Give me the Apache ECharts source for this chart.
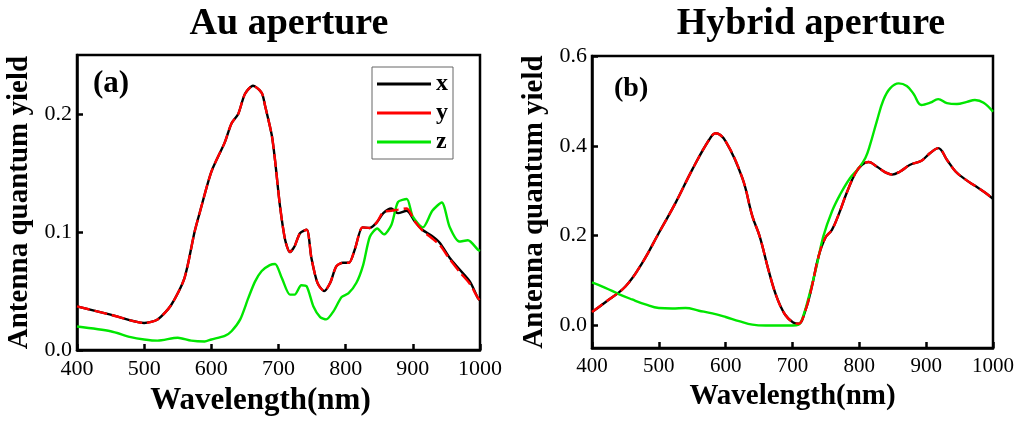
<!DOCTYPE html>
<html>
<head>
<meta charset="utf-8">
<script src="https://cdn.jsdelivr.net/npm/echarts@6/dist/echarts.min.js"></script>
<style>
  html, body { margin: 0; padding: 0; background: #fff; }
  #chart { width: 1019px; height: 421px; }
</style>
</head>
<body>
<div id="chart"></div>
<script>
// Au aperture, x and y dipoles (curves overlap)
const wlAuXY = [400, 450, 500, 520, 540, 560, 575, 583, 600, 620, 630, 640, 650, 662, 675, 680, 690, 695, 702, 710, 717, 724, 732, 742, 749, 758, 768, 777, 786, 796, 805, 814, 825, 836, 846, 856, 868, 878, 891, 903, 915, 928, 940, 955, 970, 985, 997, 1000]
const auX = [0.037, 0.030, 0.023, 0.026, 0.038, 0.061, 0.100, 0.117, 0.151, 0.176, 0.192, 0.200, 0.217, 0.224, 0.218, 0.207, 0.182, 0.160, 0.123, 0.093, 0.083, 0.088, 0.099, 0.102, 0.078, 0.057, 0.050, 0.057, 0.071, 0.074, 0.074, 0.086, 0.104, 0.1035, 0.108, 0.116, 0.120, 0.116, 0.118, 0.109, 0.1015, 0.097, 0.091, 0.078, 0.068, 0.058, 0.044, 0.042]
const auY = [0.037, 0.030, 0.023, 0.026, 0.038, 0.061, 0.100, 0.117, 0.151, 0.176, 0.192, 0.200, 0.217, 0.224, 0.218, 0.207, 0.182, 0.160, 0.123, 0.093, 0.083, 0.088, 0.099, 0.102, 0.078, 0.057, 0.050, 0.057, 0.071, 0.074, 0.074, 0.086, 0.104, 0.1035, 0.108, 0.117, 0.118, 0.119, 0.120, 0.109, 0.101, 0.095, 0.089, 0.077, 0.066, 0.056, 0.044, 0.042]
// Au aperture, z dipole
const wlAuZ = [400, 450, 480, 500, 520, 550, 570, 590, 600, 620, 630, 643, 655, 665, 675, 687, 695, 705, 717, 724, 734, 742, 752, 762, 771, 782, 794, 804, 816, 826, 836, 847, 857, 868, 878, 891, 900, 915, 929, 943, 955, 969, 982, 997, 1000]
const auZ = [0.020, 0.016, 0.011, 0.009, 0.008, 0.0105, 0.008, 0.0073, 0.009, 0.012, 0.016, 0.026, 0.044, 0.058, 0.067, 0.072, 0.073, 0.061, 0.047, 0.047, 0.055, 0.054, 0.037, 0.028, 0.026, 0.033, 0.045, 0.048, 0.057, 0.072, 0.096, 0.103, 0.098, 0.106, 0.1255, 0.128, 0.113, 0.104, 0.118, 0.125, 0.104, 0.092, 0.093, 0.085, 0.084]

// Hybrid aperture, x and y dipoles
const wlHyXY = [400, 420, 450, 475, 500, 525, 550, 575, 585, 600, 625, 640, 651, 664, 676, 689, 701, 709, 719, 729, 739, 749, 759, 769, 781, 794, 804, 814, 826, 839, 849, 861, 876, 893, 906, 918, 931, 944, 958, 973, 988, 1000]
const hyX = [0.030, 0.052, 0.087, 0.139, 0.206, 0.273, 0.347, 0.413, 0.428, 0.410, 0.328, 0.243, 0.198, 0.124, 0.065, 0.024, 0.007, 0.004, 0.032, 0.087, 0.154, 0.195, 0.213, 0.247, 0.295, 0.339, 0.358, 0.364, 0.354, 0.341, 0.336, 0.343, 0.358, 0.367, 0.384, 0.395, 0.369, 0.343, 0.326, 0.311, 0.296, 0.282]
const hyY = [0.030, 0.052, 0.087, 0.139, 0.206, 0.273, 0.347, 0.413, 0.428, 0.410, 0.328, 0.243, 0.198, 0.124, 0.065, 0.024, 0.007, 0.004, 0.032, 0.087, 0.154, 0.195, 0.213, 0.247, 0.295, 0.339, 0.358, 0.364, 0.354, 0.341, 0.336, 0.343, 0.358, 0.367, 0.384, 0.395, 0.369, 0.343, 0.326, 0.311, 0.296, 0.282]
// Hybrid aperture, z dipole
const wlHyZ = [400, 420, 440, 460, 480, 500, 520, 540, 560, 580, 600, 620, 640, 660, 680, 700, 709, 716, 726, 736, 746, 759, 771, 786, 799, 809, 816, 826, 836, 846, 859, 871, 881, 893, 906, 918, 931, 946, 961, 973, 986, 1000]
const hyZ = [0.096, 0.084, 0.070, 0.058, 0.047, 0.039, 0.038, 0.039, 0.033, 0.027, 0.019, 0.010, 0.002, 0.0, 0.0, 0.0, 0.002, 0.021, 0.073, 0.132, 0.198, 0.254, 0.291, 0.328, 0.350, 0.373, 0.402, 0.454, 0.502, 0.528, 0.539, 0.533, 0.516, 0.491, 0.496, 0.504, 0.495, 0.493, 0.498, 0.502, 0.496, 0.476]

const seriesNames = ['x', 'y', 'z']
const seriesColors = ['#000000', '#ff0000', '#00e600']
const xTicks = [400, 500, 600, 700, 800, 900, 1000]
const auYTicks = [0, 0.1, 0.2]
const hyYTicks = [0, 0.2, 0.4, 0.6]

const FONT = 'Liberation Serif'

function pairs(xs, ys) {
  return xs.map((w, i) => [w, ys[i]])
}

function xAxisCfg(gridIndex) {
  return {
    type: 'value',
    gridIndex: gridIndex,
    min: 400,
    max: 1000,
    interval: 100,
    name: 'Wavelength(nm)',
    nameLocation: 'middle',
    nameGap: 32,
    nameTextStyle: {
      fontFamily: FONT,
      fontWeight: 'bold',
      fontSize: gridIndex === 0 ? 31 : 29,
      color: '#000',
      padding: gridIndex === 0 ? [0, 36, 0, 0] : 0
    },
    axisLine: { show: true, onZero: false, lineStyle: { color: '#000', width: 2.5 } },
    axisTick: { show: true, inside: true, length: 6, lineStyle: { color: '#000', width: 2.5 } },
    axisLabel: {
      fontFamily: FONT,
      fontSize: gridIndex === 0 ? 22 : 21,
      color: '#000',
      margin: 8,
      customValues: xTicks,
      formatter: v => String(v)
    },
    splitLine: { show: false }
  }
}

function yAxisCfg(gridIndex, min, max, ticks) {
  return {
    type: 'value',
    gridIndex: gridIndex,
    min: min,
    max: max,
    name: 'Antenna quantum yield',
    nameLocation: 'middle',
    nameRotate: 90,
    nameGap: 43,
    nameTextStyle: {
      fontFamily: FONT,
      fontWeight: 'bold',
      fontSize: 29,
      color: '#000'
    },
    axisLine: { show: true, onZero: false, lineStyle: { color: '#000', width: 2.5 } },
    axisTick: { show: true, inside: true, length: 6, lineStyle: { color: '#000', width: 2.5 }, customValues: ticks },
    axisLabel: {
      fontFamily: FONT,
      fontSize: 22,
      color: '#000',
      margin: 5,
      customValues: ticks,
      formatter: v => v.toFixed(1)
    },
    splitLine: { show: false }
  }
}

function lineSeries(name, idx, data, color, dashed, smooth) {
  return {
    name: name,
    type: 'line',
    xAxisIndex: idx,
    yAxisIndex: idx,
    data: data,
    symbol: 'none',
    showSymbol: false,
    smooth: smooth,
    lineStyle: { color: color, width: 2.4, type: dashed ? [13, 5] : 'solid' },
    itemStyle: { color: color },
    z: dashed ? 4 : 3
  }
}

const chart = echarts.init(document.getElementById('chart'))

const option = {
  animation: false,
  backgroundColor: '#fff',
  textStyle: { fontFamily: FONT },
  title: [
    { text: 'Au aperture', left: 284, top: 0, textAlign: 'center',
      textStyle: { fontFamily: FONT, fontWeight: 'bold', fontSize: 38, color: '#000' } },
    { text: 'Hybrid aperture', left: 806, top: 0, textAlign: 'center',
      textStyle: { fontFamily: FONT, fontWeight: 'bold', fontSize: 38, color: '#000' } }
  ],
  graphic: [
    { type: 'text', left: 93, top: 68,
      style: { text: '(a)', fontFamily: FONT, fontWeight: 'bold', fontSize: 31, fill: '#000' } },
    { type: 'text', left: 614, top: 75,
      style: { text: '(b)', fontFamily: FONT, fontWeight: 'bold', fontSize: 28, fill: '#000' } }
  ],
  legend: {
    data: seriesNames.map((n, i) => ({ name: n, icon: 'rect', itemStyle: { color: seriesColors[i] } })),
    orient: 'vertical',
    left: 372,
    top: 67,
    padding: [5, 5, 5, 5],
    itemWidth: 54,
    itemHeight: 3,
    itemGap: 5,
    borderColor: '#666',
    borderWidth: 1,
    backgroundColor: '#fff',
    textStyle: { fontFamily: FONT, fontWeight: 'bold', fontSize: 24, color: '#000' }
  },
  grid: [
    { left: 77, top: 55, width: 403, height: 297, show: true, borderColor: '#000', borderWidth: 2.5, backgroundColor: 'transparent' },
    { left: 592, top: 56, width: 401, height: 292, show: true, borderColor: '#000', borderWidth: 2.5, backgroundColor: 'transparent' }
  ],
  xAxis: [xAxisCfg(0), xAxisCfg(1)],
  yAxis: [yAxisCfg(0, 0, 0.25, auYTicks), yAxisCfg(1, -0.05, 0.6, hyYTicks)],
  series: [
    lineSeries('x', 0, pairs(wlAuXY, auX), seriesColors[0], false, 0.25),
    lineSeries('y', 0, pairs(wlAuXY, auY), seriesColors[1], true, 0.25),
    lineSeries('z', 0, pairs(wlAuZ, auZ), seriesColors[2], false, 0.25),
    lineSeries('x', 1, pairs(wlHyXY, hyX), seriesColors[0], false, 0.4),
    lineSeries('y', 1, pairs(wlHyXY, hyY), seriesColors[1], true, 0.4),
    lineSeries('z', 1, pairs(wlHyZ, hyZ), seriesColors[2], false, 0.4)
  ]
}

chart.setOption(option)
</script>
</body>
</html>
